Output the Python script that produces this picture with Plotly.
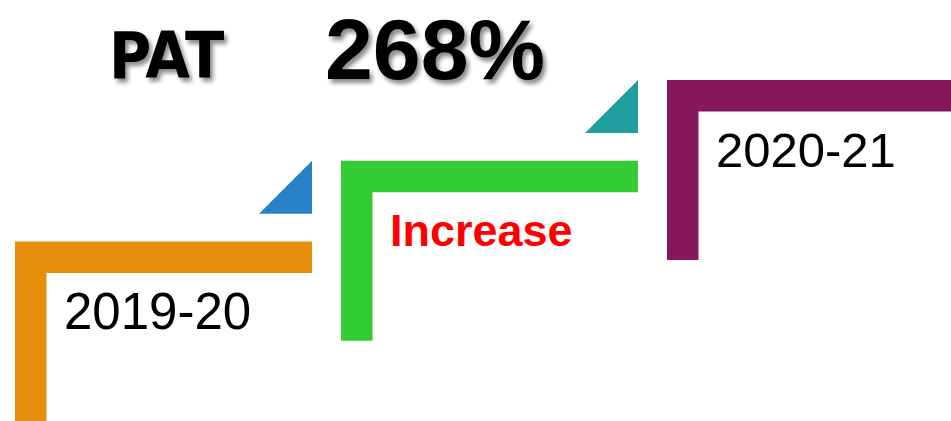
import plotly.graph_objects as go

# ---- data ----
metric_name = "PAT"
change_pct = [268]
step_labels = ["2019-20", "Increase", "2020-21"]

# ---- styles ----
step_colors = ["#E68E0A", "#33CC33", "#88185C"]
arrow_colors = ["#2882C8", "#209EA0"]
label_colors = ["#000000", "#FF0000", "#000000"]
label_bold = [False, True, False]
label_sizes = [51, 45, 49]

W, H = 951, 421
X0, Y0 = 15.0, 241.5          # first step corner
DX, DY = 326.0, 80.75         # step spacing
BAR_LEN = 297.0               # horizontal arm length
THICK = 31.5                  # arm thickness
VLEN = 180.0                  # vertical arm length
TRI = 53.0                    # triangle size

fig = go.Figure()

for i, lab in enumerate(step_labels):
    L = X0 + i * DX
    T = Y0 - i * DY
    blen = BAR_LEN if i < len(step_labels) - 1 else BAR_LEN + 20
    vlen = VLEN if i > 0 else VLEN + 40
    xs = [L, L, L + blen, L + blen, L + THICK, L + THICK, L]
    ys = [T + vlen, T, T, T + THICK, T + THICK, T + vlen, T + vlen]
    fig.add_trace(go.Scatter(x=xs, y=ys, mode="lines", fill="toself",
                             fillcolor=step_colors[i], line=dict(width=0, color=step_colors[i]),
                             hoverinfo="skip", showlegend=False))
    fig.add_annotation(x=L + 47, y=T + 70, xref="x", yref="y", text=lab,
                       showarrow=False, xanchor="left", yanchor="middle",
                       font=dict(family="Liberation Sans, Arial, sans-serif",
                                 size=label_sizes[i], color=label_colors[i],
                                 weight="bold" if label_bold[i] else "normal"))

# triangles between steps
for i in range(len(step_labels) - 1):
    R = X0 + i * DX + BAR_LEN
    Tn = Y0 - (i + 1) * DY
    xs = [R, R, R - TRI, R]
    ys = [Tn, Tn + TRI, Tn + TRI, Tn]
    fig.add_trace(go.Scatter(x=xs, y=ys, mode="lines", fill="toself",
                             fillcolor=arrow_colors[i], line=dict(width=0, color=arrow_colors[i]),
                             hoverinfo="skip", showlegend=False))

shadow = "3px 4px 4px rgba(0,0,0,0.45)"
fig.add_annotation(x=107, y=55.5, xref="x", yref="y", text=metric_name,
                   showarrow=False, xanchor="left", yanchor="middle",
                   font=dict(family="Liberation Sans Narrow, DejaVu Sans Condensed, Liberation Sans, sans-serif",
                             size=64, color="#000000", weight="bold", shadow=shadow))
fig.add_annotation(x=323, y=48.5, xref="x", yref="y", text=f"{change_pct[0]}%",
                   showarrow=False, xanchor="left", yanchor="middle",
                   font=dict(family="Liberation Sans, Arial, sans-serif",
                             size=86, color="#000000", weight="bold", shadow=shadow))

fig.update_xaxes(range=[0, W], visible=False, fixedrange=True)
fig.update_yaxes(range=[H, 0], visible=False, fixedrange=True)
fig.update_layout(width=W, height=H, margin=dict(l=0, r=0, t=0, b=0),
                  plot_bgcolor="white", paper_bgcolor="white", showlegend=False)

fig.write_html("out.html", config={"displayModeBar": False},
               post_script="document.body.style.margin='0';document.body.style.overflow='hidden';")
